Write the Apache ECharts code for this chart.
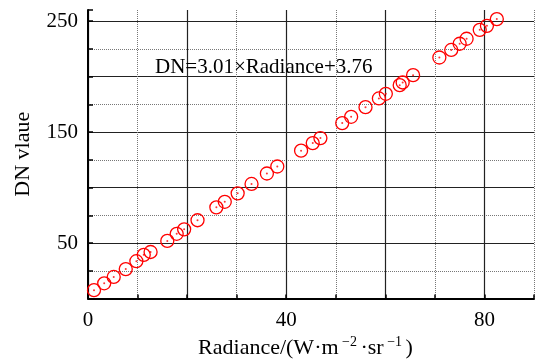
<!DOCTYPE html>
<html>
<head>
<meta charset="utf-8">
<script src="https://cdn.jsdelivr.net/npm/echarts@6/dist/echarts.min.js"></script>
<style>
  html, body { margin: 0; padding: 0; background: #fff; }
  #main { width: 545px; height: 364px; }
</style>
</head>
<body>
<div id="main"></div>
<script>
// 读图得到的数据点
var radiance = [1.21, 3.27, 5.19, 7.62, 9.76, 11.25, 12.63, 16.0, 17.9, 19.4, 22.1, 25.9, 27.6, 30.2, 33.0, 36.1, 38.2,
  43.0, 45.35, 46.9, 51.3, 53.1, 56.0, 58.7, 60.1, 62.9, 63.5, 65.6, 70.9, 73.3, 75.0, 76.4, 79.05, 80.5, 82.5];
var dn = [7.6, 13.8, 19.5, 26.6, 33.7, 39.4, 42.0, 52.0, 58.4, 62.4, 70.6, 82.2, 87.2, 94.8, 103.3, 112.7, 119.0,
  133.3, 140.1, 144.6, 158.1, 163.8, 172.5, 180.3, 184.5, 192.3, 194.7, 201.3, 217.2, 224.0, 229.6, 234.1, 242.1, 245.7, 251.8];
var xLabels = [0, 40, 80];
var yLabels = [50, 150, 250];
var fitText = 'DN=3.01×Radiance+3.76';

var serif = "'Liberation Serif', 'Times New Roman', serif";
var points = radiance.map(function (x, i) { return [x, dn[i]]; });

var chart = echarts.init(document.getElementById('main'));

// 虚线网格：只在奇数位置显示
var xMinorColors = [];
for (var i = 0; i <= 9; i++) xMinorColors.push(i % 2 === 1 ? '#777' : 'rgba(0,0,0,0)');
var yMinorColors = [];
for (var j = 0; j <= 11; j++) yMinorColors.push(j % 2 === 1 && j < 11 ? '#777' : 'rgba(0,0,0,0)');
var xMajorColors = ['#222', '#222', '#222', '#222', '#222', 'rgba(0,0,0,0)'];
var yMajorColors = ['#222', '#222', '#222', '#222', '#222', '#222', 'rgba(0,0,0,0)'];

var option = {
  animation: false,
  grid: { left: 88, right: 11, top: 10, bottom: 56 },
  xAxis: [
    {
      type: 'value', min: 0, max: 90, interval: 20,
      name: '{a|Radiance/(W·m}{s| −2 }{a|·sr}{s| −1 }{a|)}',
      nameLocation: 'middle', nameGap: 34,
      nameTextStyle: {
        padding: [0, 11, 0, 0],
        rich: {
          a: { fontFamily: serif, fontSize: 22, color: '#000', lineHeight: 25 },
          s: { fontFamily: serif, fontSize: 14, color: '#000', verticalAlign: 'top', lineHeight: 25 }
        }
      },
      axisLine: { show: true, onZero: false, lineStyle: { color: '#000', width: 2 } },
      axisTick: { show: false },
      axisLabel: {
        margin: 11, fontFamily: serif, fontSize: 21, color: '#000',
        formatter: function (v) { return xLabels.indexOf(v) >= 0 ? String(v) : ''; }
      },
      splitLine: { show: true, lineStyle: { color: xMajorColors, width: 1.2 } }
    },
    {
      type: 'value', min: 0, max: 90, interval: 10, position: 'bottom',
      axisLine: { show: false },
      axisTick: { show: true, inside: true, length: 4, lineStyle: { color: '#000', width: 1.5 } },
      axisLabel: { show: false },
      splitLine: { show: true, lineStyle: { color: xMinorColors, type: 'dotted', width: 1 } }
    }
  ],
  yAxis: [
    {
      type: 'value', min: 0, max: 260, interval: 50,
      name: 'DN vlaue', nameLocation: 'middle', nameGap: 54,
      nameTextStyle: { fontFamily: serif, fontSize: 22, color: '#000' },
      axisLine: { show: true, onZero: false, lineStyle: { color: '#000', width: 2 } },
      axisTick: { show: false },
      axisLabel: {
        margin: 10, fontFamily: serif, fontSize: 21, color: '#000',
        formatter: function (v) { return yLabels.indexOf(v) >= 0 ? String(v) : ''; }
      },
      splitLine: { show: true, lineStyle: { color: yMajorColors, width: 1.2 } }
    },
    {
      type: 'value', min: 0, max: 260, interval: 25, position: 'left',
      axisLine: { show: false },
      axisTick: { show: true, inside: true, length: 5, lineStyle: { color: '#000', width: 1.5 } },
      axisLabel: { show: false },
      splitLine: { show: true, lineStyle: { color: yMinorColors, type: 'dotted', width: 1 } }
    }
  ],
  graphic: [
    {
      type: 'text', left: 155, top: 57, z: 10,
      style: { text: fitText, fontFamily: serif, fontSize: 21, fill: '#000' }
    }
  ],
  series: [
    {
      type: 'scatter', xAxisIndex: 0, yAxisIndex: 0,
      data: points, symbol: 'circle', symbolSize: 13,
      itemStyle: { color: 'rgba(0,0,0,0)', borderColor: '#ff0000', borderWidth: 1.3, opacity: 1 },
      z: 5
    },
    {
      type: 'scatter', xAxisIndex: 0, yAxisIndex: 0,
      data: points, symbol: 'circle', symbolSize: 2,
      itemStyle: { color: '#ff0000' },
      z: 6
    }
  ]
};
chart.setOption(option);
</script>
</body>
</html>
